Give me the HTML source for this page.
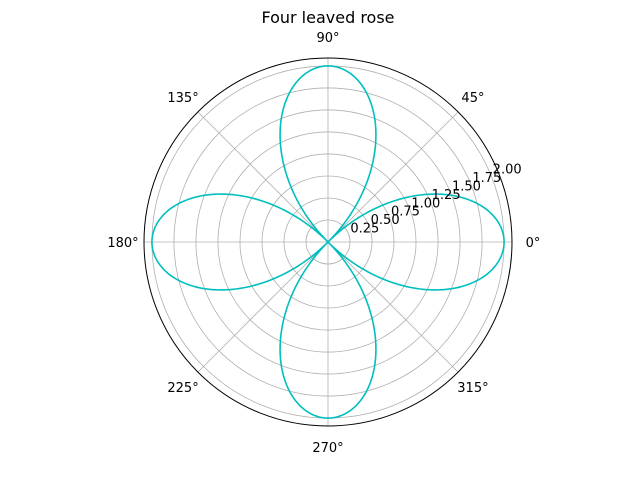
<!DOCTYPE html>
<html><head><meta charset="utf-8"><style>body{margin:0;background:#fff}svg{display:block;font-family:"DejaVu Sans","Liberation Sans",sans-serif}</style></head>
<body>
<svg id="chart" width="640" height="480">
<rect width="640" height="480" fill="#fff"/>
<text x="328" y="23" font-size="16" text-anchor="middle">Four leaved rose</text>
<g id="grid"></g>
<path id="curve" fill="none" stroke="#00bfbf" stroke-width="1.6"/>
<circle cx="328" cy="242" r="184" fill="none" stroke="#000" stroke-width="1"/>
<g id="labels" font-size="13"></g>
</svg>
<script>
const rTicks=[0.25,0.5,0.75,1.0,1.25,1.5,1.75,2.0];
const rTickLabels=["0.25","0.50","0.75","1.00","1.25","1.50","1.75","2.00"];
const thetaTicks=[0,45,90,135,180,225,270,315];
const thetaLabels=["0°","45°","90°","135°","180°","225°","270°","315°"];
const amplitude=[2];
const petalFactor=[2];
const cx=328,cy=242,R=184,rMax=2.09;
const ns="http://www.w3.org/2000/svg";
const rs=r=>r/rMax*R;
const px=(r,t)=>cx+rs(r)*Math.cos(t), py=(r,t)=>cy-rs(r)*Math.sin(t);
const g=document.getElementById('grid'),L=document.getElementById('labels');
rTicks.forEach(r=>{const c=document.createElementNS(ns,'circle');


c.setAttribute('cx',cx);c.setAttribute('cy',cy);c.setAttribute('r',rs(r));c.setAttribute('fill','none');c.setAttribute('stroke','#b0b0b0');c.setAttribute('stroke-width','0.8');g.appendChild(c);});
thetaTicks.forEach((d,i)=>{const t=d*Math.PI/180;const l=document.createElementNS(ns,'line');


l.setAttribute('x1',cx);l.setAttribute('y1',cy);l.setAttribute('x2',cx+R*Math.cos(t));l.setAttribute('y2',cy-R*Math.sin(t));l.setAttribute('stroke','#b0b0b0');l.setAttribute('stroke-width','0.8');g.appendChild(l);
const tx=document.createElementNS(ns,'text');


tx.setAttribute('x',cx+(R+21)*Math.cos(t));tx.setAttribute('y',cy-(R+21)*Math.sin(t)+5);tx.setAttribute('text-anchor','middle');tx.textContent=thetaLabels[i];L.appendChild(tx);});
const a=22.5*Math.PI/180;
rTicks.forEach((r,i)=>{const tx=document.createElementNS(ns,'text');


tx.setAttribute('x',px(r,a)+2);tx.setAttribute('y',py(r,a)-1);tx.textContent=rTickLabels[i];L.appendChild(tx);});
let d='';for(let k=0;k<=720;k++){const t=k/720*2*Math.PI;const r=amplitude[0]*Math.cos(petalFactor[0]*t);d+=(k?'L':'M')+px(r,t).toFixed(2)+','+py(r,t).toFixed(2);}
document.getElementById('curve').setAttribute('d',d);
</script>
</body></html>
